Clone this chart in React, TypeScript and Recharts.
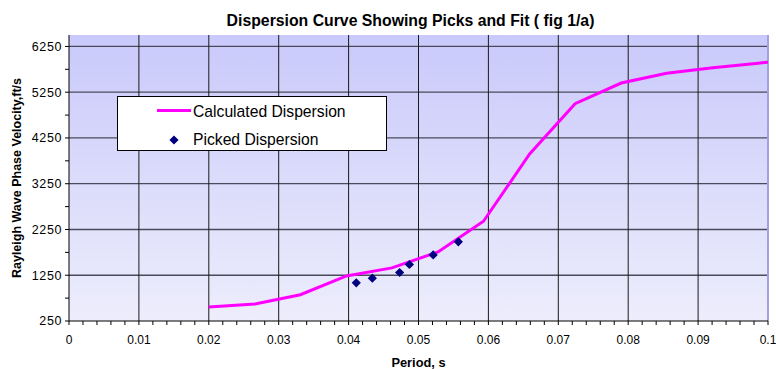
import React from 'react';
import {
  ComposedChart,
  Line,
  Scatter,
  XAxis,
  YAxis,
  CartesianGrid,
  ReferenceLine,
  Legend,
} from 'recharts';

const FONT = 'Arial, "Liberation Sans", sans-serif';

const titleText = 'Dispersion Curve Showing Picks and Fit ( fig 1/a)';
const xTitle = 'Period, s';
const yTitle = 'Rayleigh Wave Phase Velocity,ft/s';

const calcName = 'Calculated Dispersion';
const pickName = 'Picked Dispersion';

const calcPeriod = [0.02, 0.0266, 0.0331, 0.0397, 0.0462, 0.0528, 0.0593, 0.0659, 0.0724, 0.079, 0.0855, 0.0921, 0.0986, 0.1];
const calcVelocity = [555, 620, 825, 1235, 1410, 1760, 2430, 3900, 5000, 5450, 5665, 5785, 5885, 5905];

const pickPeriod = [0.0411, 0.0434, 0.0473, 0.0487, 0.0521, 0.0557];
const pickVelocity = [1085, 1185, 1310, 1485, 1695, 1980];

const xMajorTicks = [0, 0.01, 0.02, 0.03, 0.04, 0.05, 0.06, 0.07, 0.08, 0.09, 0.1];
const xMinorTicks = Array.from({ length: 51 }, (_, i) => +(i * 0.002).toFixed(3));
const yMajorTicks = [250, 1250, 2250, 3250, 4250, 5250, 6250];
const yMinorTicks = [250, 750, 1250, 1750, 2250, 2750, 3250, 3750, 4250, 4750, 5250, 5750, 6250];

const calcData = calcPeriod.map((p, i) => ({ p, v: calcVelocity[i] }));
const pickData = pickPeriod.map((p, i) => ({ p, v: pickVelocity[i] }));

const isMajorX = (v: number) => xMajorTicks.some((t) => Math.abs(t - v) < 1e-9);
const isMajorY = (v: number) => yMajorTicks.includes(v);

const Diamond = (props: any) => {
  const { cx, cy } = props;
  if (cx == null || cy == null) return null;
  const r = 4.6;
  return (
    <path
      d={`M${cx},${cy - r}L${cx + r},${cy}L${cx},${cy + r}L${cx - r},${cy}Z`}
      fill="#000080"
      stroke="none"
    />
  );
};

const LegendBox = (props: any) => {
  const payload = props.payload || [];
  return (
    <div
      style={{
        width: 270,
        height: 55,
        boxSizing: 'border-box',
        border: '1px solid #000',
        background: '#fff',
        position: 'relative',
        fontFamily: FONT,
        fontSize: 15.7,
        color: '#000',
      }}
    >
      {payload.map((entry: any, i: number) => {
        const isLine = entry.value === calcName;
        const cy = i === 0 ? 14.5 : 42.5;
        return (
          <div key={i} style={{ position: 'absolute', left: 0, top: cy - 10, height: 20, width: 268 }}>
            <svg width={60} height={20} style={{ position: 'absolute', left: 36, top: 0 }}>
              {isLine ? (
                <line x1={3} y1={8.5} x2={37} y2={8.5} stroke="#ff00ff" strokeWidth={3} />
              ) : (
                <path d="M20,5.4L24.6,10L20,14.6L15.4,10Z" fill="#000080" />
              )}
            </svg>
            <span style={{ position: 'absolute', left: 75, top: 0, lineHeight: '20px', whiteSpace: 'nowrap' }}>
              {entry.value}
            </span>
          </div>
        );
      })}
    </div>
  );
};

export default function App() {
  return (
    <div style={{ position: 'absolute', left: 0, top: 0, width: 776, height: 369, background: '#fff' }}>
      <div
        style={{
          position: 'absolute',
          left: 0,
          top: 12.5,
          width: 821,
          textAlign: 'center',
          fontFamily: FONT,
          fontWeight: 'bold',
          fontSize: 15.8,
          lineHeight: '16px',
          color: '#000',
          whiteSpace: 'nowrap',
        }}
      >
        {titleText}
      </div>
      <ComposedChart
        width={776}
        height={369}
        margin={{ top: 35, right: 8, bottom: 18, left: 0 }}
        style={{ position: 'absolute', left: 0, top: 0 }}
      >
        <defs>
          <linearGradient id="plotBg" x1="0" y1="0" x2="0" y2="1">
            <stop offset="0%" stopColor="#c9c9fb" />
            <stop offset="100%" stopColor="#ededfc" />
          </linearGradient>
        </defs>
        <CartesianGrid fill="url(#plotBg)" horizontal={false} vertical={false} />
        <XAxis
          type="number"
          dataKey="p"
          domain={[0, 0.1]}
          ticks={xMinorTicks}
          interval={0}
          allowDataOverflow
          height={30}
          tickSize={4}
          tickMargin={10}
          stroke="#000"
          tick={{ fill: '#000', fontSize: 12, fontFamily: FONT }}
          tickFormatter={(v: number) => (isMajorX(v) ? (v === 0 ? '0' : String(+v.toFixed(3))) : '')}
          label={{
            content: (lp: any) => {
              const vb = lp.viewBox || { x: 69, width: 699 };
              return (
                <text
                  x={vb.x + vb.width / 2}
                  y={366.5}
                  textAnchor="middle"
                  fontFamily={FONT}
                  fontWeight="bold"
                  fontSize={12.8}
                  fill="#000"
                >
                  {xTitle}
                </text>
              );
            },
          }}
        />
        <YAxis
          type="number"
          dataKey="v"
          domain={[250, 6500]}
          ticks={yMinorTicks}
          interval={0}
          allowDataOverflow
          width={69}
          tickSize={4}
          tickMargin={3}
          stroke="#000"
          tick={{ fill: '#000', fontSize: 12.5, fontFamily: FONT, letterSpacing: 0.6 }}
          tickFormatter={(v: number) => (isMajorY(v) ? String(v) : '')}
          label={{
            content: (lp: any) => {
              const vb = lp.viewBox || { y: 35, height: 286 };
              const cy = vb.y + vb.height / 2;
              return (
                <text
                  transform={`translate(21, ${cy}) rotate(-90)`}
                  textAnchor="middle"
                  fontFamily={FONT}
                  fontWeight="bold"
                  fontSize={12.5}
                  fill="#000"
                >
                  {yTitle}
                </text>
              );
            },
          }}
        />
        {yMajorTicks.slice(1).map((t) => (
          <ReferenceLine key={`h${t}`} y={t} stroke="#4a4a5a" strokeWidth={1.3} ifOverflow="hidden" />
        ))}
        {xMajorTicks.slice(1, -1).map((t) => (
          <ReferenceLine key={`v${t}`} x={t} stroke="#1a1a1a" strokeWidth={1} ifOverflow="hidden" />
        ))}
        <ReferenceLine x={0.1} stroke="#a0a0e6" strokeWidth={2} />
        <Legend
          layout="vertical"
          align="center"
          verticalAlign="middle"
          wrapperStyle={{ position: 'absolute', left: 117, top: 96, width: 270, height: 55 }}
          content={LegendBox}
        />
        <Line
          data={calcData}
          dataKey="v"
          name={calcName}
          type="linear"
          stroke="#ff00ff"
          strokeWidth={3}
          dot={false}
          activeDot={false}
          isAnimationActive={false}
          legendType="line"
        />
        <Scatter
          data={pickData}
          dataKey="v"
          name={pickName}
          fill="#000080"
          shape={Diamond}
          isAnimationActive={false}
          legendType="diamond"
        />
      </ComposedChart>
    </div>
  );
}
